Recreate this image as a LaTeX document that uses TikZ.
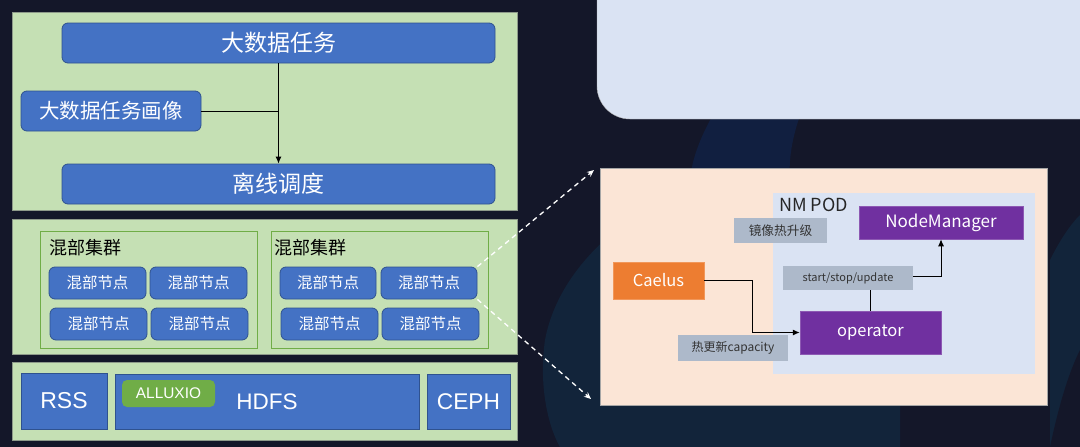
\documentclass[tikz,border=0pt]{standalone}
\usepackage{fontspec}
\setmainfont{Noto Sans CJK SC}
\newfontfamily\arialf{Liberation Sans}
\usetikzlibrary{arrows.meta}
\definecolor{bgc}{HTML}{141729}
\definecolor{bgteal}{HTML}{12243A}
\definecolor{bgblue}{HTML}{111F40}
\definecolor{greenp}{HTML}{C5E0B4}
\definecolor{greenb}{HTML}{70AD47}
\definecolor{panelb}{HTML}{8E9A8A}
\definecolor{bluef}{HTML}{4472C4}
\definecolor{blueb}{HTML}{2F528F}
\definecolor{lightblue}{HTML}{DAE3F3}
\definecolor{peach}{HTML}{FBE5D6}
\definecolor{purp}{HTML}{7030A0}
\definecolor{grayl}{HTML}{ADB9CA}
\definecolor{orng}{HTML}{ED7D31}
\tikzset{
  fs/.style={font=\fontsize{#1}{#1}\selectfont},
  panel/.style={draw=panelb, line width=0.6pt, fill=greenp, inner sep=0pt},
  cluster/.style={draw=greenb, line width=1pt, fill=greenp, inner sep=0pt},
  bbox/.style={draw=blueb, line width=0.8pt, fill=bluef, text=white, rounded corners=6pt, inner sep=0pt},
  sbox/.style={draw=blueb, line width=0.8pt, fill=bluef, text=white, inner sep=0pt},
  pbox/.style={fill=purp, draw=purp!80!white, line width=0.5pt, text=white, inner sep=0pt},
  gbox/.style={fill=grayl, text=black!80, inner sep=0pt},
  conn/.style={draw=black, line width=1pt, -{Latex[length=7pt,width=6pt]}},
  dconn/.style={draw=white, line width=1.3pt, dash pattern=on 5pt off 4pt, -{Stealth[length=7pt,width=6pt]}},
}
\begin{document}
\begin{tikzpicture}[x=1pt,y=-1pt]
\useasboundingbox (0,0) rectangle (1080,447);
\begin{scope}
\clip (0,0) rectangle (1080,447);
\fill[bgc] (0,0) rectangle (1080,447);
\fill[bgteal] (720,175) .. controls (640,200) and (560,260) .. (545,340) .. controls (538,390) and (550,430) .. (560,447) -- (900,447) -- (900,175) -- cycle;
\fill[bgteal] (1050,260) .. controls (1060,240) and (1070,225) .. (1080,215) -- (1080,447) -- (1050,447) -- cycle;
\fill[bgc] (1050,447) .. controls (1060,400) and (1070,370) .. (1080,350) -- (1080,447) -- cycle;
\fill[bgblue] (690,180) .. controls (695,120) and (760,40) .. (820,0) -- (880,0) .. controls (830,40) and (785,120) .. (790,180) -- cycle;
\fill[lightblue, draw=gray!60, rounded corners=33pt] (597,-40) rectangle (1120,119);
\end{scope}

% top panel
\node[panel, minimum width=505, minimum height=198] (toppanel) at (264.5,111) {};
\node[bbox, minimum width=433, minimum height=40, fs=23] (task) at (278.5,43) {大数据任务};
\node[bbox, minimum width=180, minimum height=40, fs=20.5] (portrait) at (111,111) {大数据任务画像};
\node[bbox, minimum width=433, minimum height=40, fs=23] (sched) at (278.5,184) {离线调度};
\draw[conn] (task.south) -- (sched.north);
\draw[line width=1pt] (portrait.east) -- (portrait.east -| task.south);

% middle panel
\node[panel, minimum width=505, minimum height=135] (midpanel) at (264.5,286.5) {};
\node[cluster, minimum width=217, minimum height=117] (cl1) at (148.5,289.5) {};
\node[cluster, minimum width=217, minimum height=117] (cl2) at (379.5,289.5) {};
\node[anchor=west, fs=18, inner sep=0pt] (cl1lab) at (49,248) {混部集群};
\node[anchor=west, fs=18, inner sep=0pt] (cl2lab) at (274,248) {混部集群};
\node[bbox, minimum width=97, minimum height=32, fs=15.5] (a1) at (97.5,283) {混部节点};
\node[bbox, minimum width=97, minimum height=32, fs=15.5] (a2) at (198.5,283) {混部节点};
\node[bbox, minimum width=97, minimum height=32, fs=15.5] (a3) at (98.5,324) {混部节点};
\node[bbox, minimum width=97, minimum height=32, fs=15.5] (a4) at (199.5,324) {混部节点};
\node[bbox, minimum width=96, minimum height=32, fs=15.5] (b1) at (328,283) {混部节点};
\node[bbox, minimum width=96, minimum height=32, fs=15.5] (b2) at (429,283) {混部节点};
\node[bbox, minimum width=97, minimum height=32, fs=15.5] (b3) at (329.5,324) {混部节点};
\node[bbox, minimum width=97, minimum height=32, fs=15.5] (b4) at (430.5,324) {混部节点};

% bottom panel
\node[panel, minimum width=505, minimum height=78] (botpanel) at (264.5,401) {};
\node[sbox, minimum width=86, minimum height=56, font=\arialf\fontsize{23}{23}\selectfont] (rss) at (64,401) {RSS};
\node[sbox, minimum width=304, minimum height=55, font=\arialf\fontsize{22.5}{22.5}\selectfont] (hdfs) at (267,401.5) {HDFS};
\node[fill=greenb, rounded corners=5pt, text=white, inner sep=0pt, minimum width=93, minimum height=27, font=\arialf\fontsize{15.4}{15.4}\selectfont] (alluxio) at (168.5,393.5) {ALLUXIO};
\node[sbox, minimum width=83, minimum height=55, font=\arialf\fontsize{22.7}{22.7}\selectfont] (ceph) at (468.5,401.5) {CEPH};

% detail panel
\node[fill=peach, draw=gray!70, line width=0.6pt, minimum width=447, minimum height=237, inner sep=0pt] (detail) at (823.5,286.5) {};
\node[fill=lightblue, minimum width=262, minimum height=181, inner sep=0pt] (nmpod) at (904,283.5) {};
\node[anchor=west, inner sep=0pt, fs=18, text=black!85] (nmlab) at (779,205) {NM POD};
\node[pbox, minimum width=164, minimum height=33, fs=17] (nm) at (941,222.5) {NodeManager};
\node[gbox, minimum width=93, minimum height=25, fs=12.7] (mirror) at (780.5,230.5) {镜像热升级};
\node[fill=orng, draw=orng!80!white, line width=0.5pt, text=white, inner sep=0pt, minimum width=91, minimum height=37, fs=16.5] (caelus) at (658.5,280.5) {Caelus};
\node[pbox, minimum width=141, minimum height=43, fs=16.5] (op) at (870.5,332.5) {operator};
\node[gbox, minimum width=110, minimum height=26, fs=12] (hot) at (733,348) {热更新capacity};
\coordinate (bend1) at (752,280.5);
\draw[conn] (caelus.east) -- (bend1) |- (op.west);
\coordinate (bend2) at (870.5,276);
\draw[conn] (op.north) -- (bend2) -| (nm.south);
\node[gbox, minimum width=130, minimum height=24, fs=11] (ssu) at (848,278) {start/stop/update};

% dashed links
\coordinate (dtop) at (594,170);
\coordinate (dbot) at (591,399);
\draw[dconn] (b2.north east) -- (dtop);
\draw[dconn] (b2.south east) -- (dbot);
\end{tikzpicture}
\end{document}
